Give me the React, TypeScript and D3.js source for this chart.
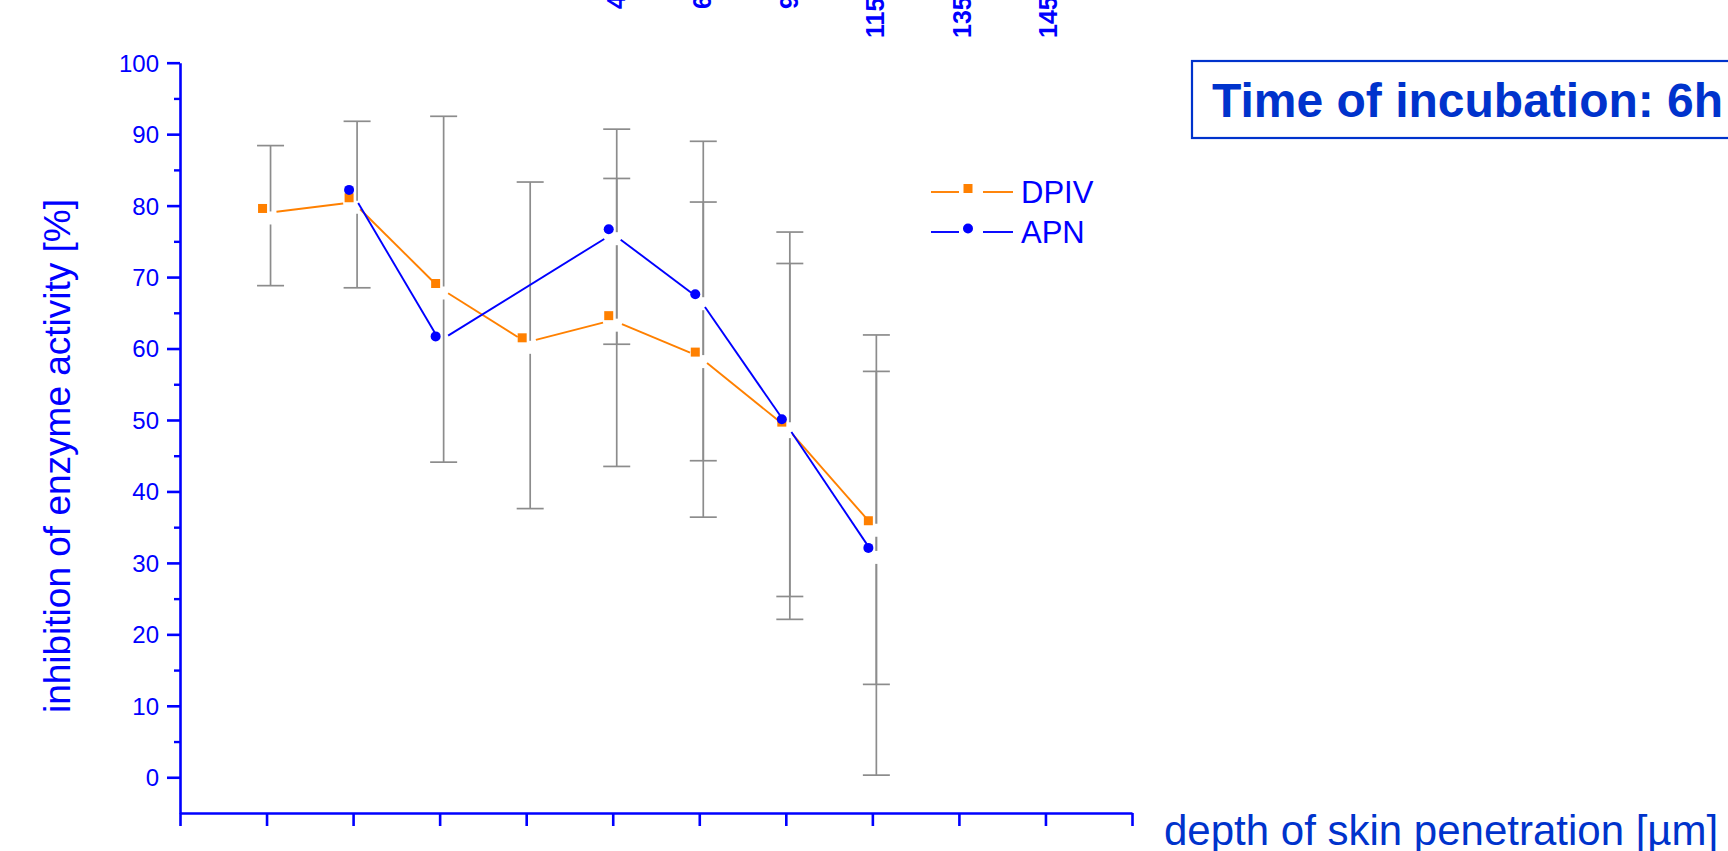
import React, { useEffect, useRef } from "react";
import * as d3 from "d3";

// x categories (tick positions 0..11), only the labels that can be read are filled in
const depthLabels = ["", "", "", "", "", "45", "65", "95", "115", "135", "145", ""];
const positions = [1, 2, 3, 4, 5, 6, 7, 8];

const dpivValues = [79.6, 81.1, 69.1, 61.5, 64.6, 59.5, 49.7, 35.9];
const apnValues = [null, 82.2, 61.7, null, 76.7, 67.6, 50.1, 32.1];

const dpivLow = [68.8, 68.5, 44.1, 37.6, 43.5, 36.4, 25.3, 13.0];
const dpivHigh = [88.4, 91.8, 92.5, 83.3, 83.8, 80.5, 71.9, 56.8];
const apnLow = [null, null, null, null, 60.6, 44.3, 22.1, 0.3];
const apnHigh = [null, null, null, null, 90.7, 89.0, 76.3, 61.9];

const yMajor = [0, 10, 20, 30, 40, 50, 60, 70, 80, 90, 100];
const yMinor = [5, 15, 25, 35, 45, 55, 65, 75, 85, 95];

const FONT = "'Liberation Sans', Arial, Helvetica, sans-serif";
const BLUE = "#0000ff";
const DARKBLUE = "#0033cc";
const ORANGE = "#ff8000";
const GREY = "#8c8c8c";

export default function App() {
  const ref = useRef<SVGSVGElement>(null);

  useEffect(() => {
    const svg = d3.select(ref.current);
    svg.selectAll("*").remove();

    const x = d3.scaleLinear().domain([0, 11]).range([180, 1132]);
    const y = d3.scaleLinear().domain([-5, 100]).range([813, 62.7]);

    // y axis
    const yAxis = svg.append("g").attr("transform", "translate(180,0)")
      .call(d3.axisLeft(y).tickValues(yMajor).tickSize(13).tickSizeOuter(0).tickPadding(8));
    yAxis.select(".domain").attr("stroke", BLUE).attr("stroke-width", 2.6);
    yAxis.selectAll(".tick line").attr("stroke", BLUE).attr("stroke-width", 2.6);
    yAxis.selectAll(".tick text")
      .attr("fill", BLUE).attr("font-family", FONT).attr("font-size", 24).attr("dy", "0.35em");
    const yMin = svg.append("g").attr("transform", "translate(180,0)")
      .call(d3.axisLeft(y).tickValues(yMinor).tickSize(6).tickSizeOuter(0).tickFormat(() => ""));
    yMin.select(".domain").remove();
    yMin.selectAll(".tick line").attr("stroke", BLUE).attr("stroke-width", 2.4);

    // x axis
    const xAxis = svg.append("g").attr("transform", "translate(0,813)")
      .call(d3.axisBottom(x).tickValues(d3.range(12)).tickSize(13).tickSizeOuter(0).tickFormat(() => ""));
    xAxis.select(".domain").attr("stroke", BLUE).attr("stroke-width", 2.6);
    xAxis.selectAll(".tick line").attr("stroke", BLUE).attr("stroke-width", 2.6);

    // rotated depth labels at the top
    svg.append("g").selectAll("text")
      .data(depthLabels.map((d, i) => ({ d, i })).filter((o) => o.d !== ""))
      .enter().append("text")
      .attr("transform", (o) => `translate(${x(o.i) + 12},${o.d.length >= 3 ? 38 : 9}) rotate(-90)`)
      .attr("font-family", FONT).attr("font-weight", "bold").attr("font-size", 25)
      .attr("fill", BLUE).text((o) => o.d);

    const series = [
      { name: "DPIV", values: dpivValues, low: dpivLow, high: dpivHigh, color: ORANGE, shape: "square" },
      { name: "APN", values: apnValues, low: apnLow, high: apnHigh, color: BLUE, shape: "circle" },
    ];

    // error bars
    const bars = svg.append("g");
    series.forEach((s) => {
      positions.forEach((p, k) => {
        const lo = s.low[k], hi = s.high[k];
        if (lo == null || hi == null) return;
        const bx = x(p) + 4;
        bars.append("line").attr("x1", bx).attr("x2", bx).attr("y1", y(lo)).attr("y2", y(hi))
          .attr("stroke", GREY).attr("stroke-width", 1.7);
        [lo, hi].forEach((v) => {
          bars.append("line").attr("x1", bx - 13.5).attr("x2", bx + 13.5).attr("y1", y(v)).attr("y2", y(v))
            .attr("stroke", GREY).attr("stroke-width", 1.7);
        });
      });
    });
    // gaps in the bars next to each point
    series.forEach((s) => {
      positions.forEach((p, k) => {
        const v = s.values[k];
        if (v == null || s.low[k] == null) return;
        bars.append("rect").attr("x", x(p) + 1).attr("y", y(v) + 3).attr("width", 6).attr("height", 13)
          .attr("fill", "#fff");
      });
    });

    // lines with gaps at the points
    const gap = 10;
    series.forEach((s) => {
      const pts = positions
        .map((p, k) => ({ p, v: s.values[k] }))
        .filter((o) => o.v != null)
        .map((o) => [x(o.p), y(o.v as number) + 4.5]);
      const g = svg.append("g");
      for (let i = 0; i < pts.length - 1; i++) {
        const [x1, y1] = pts[i], [x2, y2] = pts[i + 1];
        const len = Math.hypot(x2 - x1, y2 - y1);
        const ux = (x2 - x1) / len, uy = (y2 - y1) / len;
        g.append("line")
          .attr("x1", x1 + ux * gap).attr("y1", y1 + uy * gap)
          .attr("x2", x2 - ux * gap).attr("y2", y2 - uy * gap)
          .attr("stroke", s.color).attr("stroke-width", 1.9);
      }
    });

    // markers
    const drawMarker = (g: any, shape: string, cx: number, cy: number, color: string) => {
      if (shape === "square") {
        g.append("rect").attr("x", cx - 4.5).attr("y", cy - 4.5).attr("width", 9).attr("height", 9).attr("fill", color);
      } else {
        g.append("circle").attr("cx", cx).attr("cy", cy).attr("r", 5).attr("fill", color);
      }
    };
    series.forEach((s) => {
      const g = svg.append("g");
      positions.forEach((p, k) => {
        const v = s.values[k];
        if (v == null) return;
        drawMarker(g, s.shape, x(p) - 4, y(v), s.color);
      });
    });

    // legend
    const lg = svg.append("g");
    series.forEach((s, i) => {
      const ly = 192 + i * 40;
      lg.append("line").attr("x1", 931).attr("x2", 959).attr("y1", ly).attr("y2", ly)
        .attr("stroke", s.color).attr("stroke-width", 1.9);
      lg.append("line").attr("x1", 983).attr("x2", 1013).attr("y1", ly).attr("y2", ly)
        .attr("stroke", s.color).attr("stroke-width", 1.9);
      drawMarker(lg, s.shape, 968, ly - 3.5, s.color);
      lg.append("text").attr("x", 1021).attr("y", ly + 11)
        .attr("font-family", FONT).attr("font-size", 31).attr("fill", BLUE).text(s.name);
    });

    // axis titles
    svg.append("text")
      .attr("transform", "translate(70,456) rotate(-90)")
      .attr("text-anchor", "middle").attr("font-family", FONT).attr("font-size", 37)
      .attr("fill", BLUE).text("inhibition of enzyme activity [%]");
    svg.append("text")
      .attr("x", 1164).attr("y", 845)
      .attr("font-family", FONT).attr("font-size", 42)
      .attr("fill", DARKBLUE).text("depth of skin penetration [µm]");

    // title box
    svg.append("rect").attr("x", 1192).attr("y", 61).attr("width", 600).attr("height", 77)
      .attr("fill", "none").attr("stroke", DARKBLUE).attr("stroke-width", 2.2);
    svg.append("text").attr("x", 1212).attr("y", 117)
      .attr("font-family", FONT).attr("font-weight", "bold").attr("font-size", 48)
      .attr("fill", DARKBLUE).text("Time of incubation: 6h");
  }, []);

  return (
    <svg
      ref={ref}
      width={1728}
      height={851}
      style={{ position: "absolute", left: 0, top: 0, background: "#fff" }}
    />
  );
}
